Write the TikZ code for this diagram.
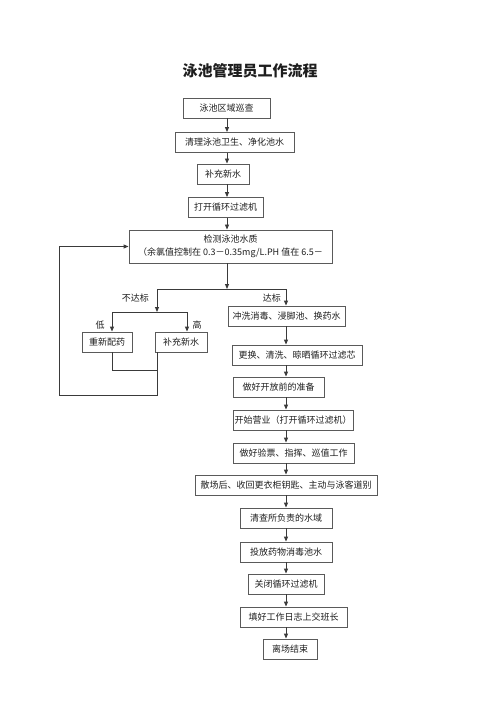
\documentclass[tikz,border=0pt]{standalone}
\usepackage{fontspec}
\setmainfont{Noto Sans CJK SC}
\usepackage{tikz}
\usetikzlibrary{arrows.meta, calc}
\definecolor{edgecol}{HTML}{5A5A5A}
\definecolor{wirecol}{HTML}{3A3A3A}
\definecolor{ink}{HTML}{1E1E1E}
\tikzset{
  stepbox/.style={
    draw=edgecol,
    line width=0.9pt,
    minimum height=20pt,
    inner sep=0pt,
    text=ink,
    font=\fontsize{9}{11}\selectfont
  },
  wire/.style={draw=wirecol, line width=0.9pt},
  flow/.style={wire, -{Triangle[length=5pt, width=4pt]}},
  tag/.style={text=ink, inner sep=0pt, font=\fontsize{9}{11}\selectfont}
}

\begin{document}
\begin{tikzpicture}[x=1pt, y=-1pt]
  \useasboundingbox (0,0) rectangle (500,708);

  % Title
  \node[font=\fontsize{15}{18}\selectfont\bfseries, text=ink] (title) at (250,71) {泳池管理员工作流程};

  % Top column
  \coordinate (mainx) at (227,0);
  \node[stepbox, minimum width=87pt] (patrol) at (226.5,108) {泳池区域巡查};
  \node[stepbox, minimum width=119pt] (clean) at (234.5,142.5) {清理泳池卫生、净化池水};
  \node[stepbox, minimum width=52pt] (refill) at (223,174) {补充新水};
  \node[stepbox, minimum width=75pt] (pump) at (225.5,207.5) {打开循环过滤机};
  \node[stepbox, minimum width=203pt, minimum height=33pt, align=center,
        font=\fontsize{9}{13.3}\selectfont] (check) at (230.5,246.5)
        {检测泳池水质\\（余氯值控制在 0.3－0.35mg/L.PH 值在 6.5－};

  \draw[flow] (patrol.south -| mainx) -- (clean.north -| mainx);
  \draw[flow] (clean.south -| mainx) -- (refill.north -| mainx);
  \draw[flow] (refill.south -| mainx) -- (pump.north -| mainx);
  \draw[flow] (pump.south -| mainx) -- (check.north -| mainx);

  % Split after the check
  \coordinate (split) at (227,289);
  \coordinate (failx) at (157,289);
  \coordinate (passx) at (286,289);
  \coordinate (lowx) at (112,312);
  \coordinate (highx) at (187,312);
  \draw[flow] (check.south -| split) -- (split);
  \draw[wire] (failx) -- (passx);
  \draw[flow] (failx) -- (failx |- lowx);
  \draw[wire] (lowx) -- (highx);
  \node[tag, anchor=east] (failtag) at (149,298) {不达标};
  \node[tag, anchor=east] (passtag) at (281,298) {达标};

  % Not up to standard
  \node[stepbox, minimum width=50pt] (redose) at (107,342) {重新配药};
  \node[stepbox, minimum width=52pt] (addwater) at (181,342) {补充新水};
  \node[tag] (lowtag) at (100,325) {低};
  \node[tag] (hightag) at (197,325) {高};
  \draw[flow] (lowx) -- (lowx |- redose.north);
  \draw[flow] (highx) -- (highx |- addwater.north);

  % Loop back to the check
  \coordinate (joinx) at (157,370);
  \coordinate (loopx) at (59,395);
  \draw[wire] (redose.south -| lowx) |- (joinx);
  \draw[flow] (addwater.south -| joinx) -- (joinx |- loopx) -| (loopx |- check.west) -- (check.west);

  % Right column
  \node[stepbox, minimum width=117pt] (wash) at (286.5,316) {冲洗消毒、浸脚池、换药水};
  \node[stepbox, minimum width=130pt] (filter) at (297,355) {更换、清洗、晾晒循环过滤芯};
  \node[stepbox, minimum width=91pt] (prepare) at (278.5,387) {做好开放前的准备};
  \node[stepbox, minimum width=120pt] (open) at (293,420) {开始营业（打开循环过滤机）};
  \node[stepbox, minimum width=121pt] (duty) at (293.5,453) {做好验票、指挥、巡值工作};
  \node[stepbox, minimum width=182pt] (close) at (286,485) {散场后、收回更衣柜钥匙、主动与泳客道别};
  \node[stepbox, minimum width=92pt] (inspect) at (286,518) {清查所负责的水域};
  \node[stepbox, minimum width=92pt] (dose) at (286,552) {投放药物消毒池水};
  \node[stepbox, minimum width=76pt] (pumpoff) at (286,584) {关闭循环过滤机};
  \node[stepbox, minimum width=107pt] (log) at (293.5,617) {填好工作日志上交班长};
  \node[stepbox, minimum width=54pt] (leave) at (290,649) {离场结束};

  \draw[flow] (passx) -- (passx |- wash.north);
  \foreach \a/\b in {wash/filter, filter/prepare, prepare/open, open/duty, duty/close,
                     close/inspect, inspect/dose, dose/pumpoff, pumpoff/log, log/leave}
    \draw[flow] (\a.south -| passx) -- (\b.north -| passx);

\end{tikzpicture}
\end{document}
